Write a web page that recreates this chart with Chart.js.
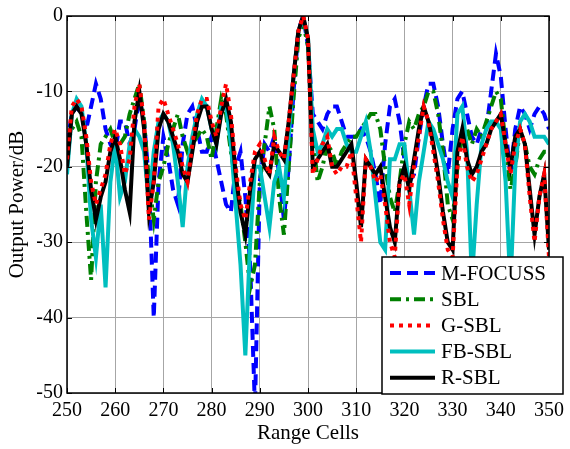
<!DOCTYPE html>
<html>
<head>
<meta charset="utf-8">
<script src="https://cdn.jsdelivr.net/npm/chart.js@4.4.1/dist/chart.umd.min.js"></script>
<style>
  html, body { margin: 0; padding: 0; background: #fff; }
  #wrap { width: 570px; height: 449px; }
</style>
</head>
<body>
<div id="wrap"><canvas id="grafico"></canvas></div>
<script>
// range cells 250..350, one sample per cell
const celdas = Array.from({ length: 101 }, (_, i) => 250 + i);
const xTicks = [250, 260, 270, 280, 290, 300, 310, 320, 330, 340, 350];
const yTicks = [0, -10, -20, -30, -40, -50];

const mFocuss = [
  -17, -13, -12, -13, -15, -12, -9, -11, -15, -17,
  -18, -14, -14, -17, -15, -11, -14, -22, -40, -22,
  -16, -19, -23, -25, -17, -13, -12, -15, -18, -18,
  -16, -19, -22, -25, -26, -20, -18, -24, -33, -52,
  -22, -17, -18, -16, -21, -27, -20, -10, -2, 0,
  -4, -13, -14, -15, -13, -12, -12, -14, -16, -16,
  -16, -15, -16, -18, -21, -25, -17, -12, -11, -14,
  -19, -22, -21, -16, -12, -9, -9, -12, -17, -21,
  -15, -11, -10, -13, -16, -17, -15, -15, -10, -5,
  -8, -15, -21, -15, -12, -13, -15, -13, -12, -13,
  -15
];
const sbl = [
  -17, -15, -14, -16, -26, -35, -22, -17, -16, -15,
  -17, -17, -16, -13, -11, -9, -14, -22, -27, -22,
  -20, -17, -15, -13, -16, -18, -17, -16, -15, -16,
  -19, -15, -11, -13, -18, -22, -25, -30, -36, -33,
  -22, -17, -12, -15, -24, -29, -20, -11, -3, -1,
  -4, -16, -22, -20, -17, -18, -20, -18, -17, -16,
  -16, -15, -14, -13, -13, -15, -20, -24, -26, -22,
  -17, -14, -15, -13, -12, -10, -10, -13, -18, -25,
  -27, -20, -16, -15, -17, -15, -16, -14, -12, -10,
  -11, -17, -23, -20, -15, -17, -20, -21, -19, -18,
  -18
];
const gSbl = [
  -19, -12, -11, -12, -16, -22, -25, -23, -21, -17,
  -15, -17, -21, -19, -12, -9, -14, -27, -22, -12,
  -11, -13, -15, -17, -20, -22, -17, -13, -11, -11,
  -14, -16, -12, -9, -13, -20, -25, -27, -22, -18,
  -17, -19, -21, -16, -18, -19, -14, -8, -2, 0,
  -3, -21, -19, -17, -16, -20, -21, -20, -20, -18,
  -24, -30, -19, -20, -22, -21, -25, -30, -32, -22,
  -21, -25, -20, -16, -12, -14, -18, -22, -27, -31,
  -32, -20, -16, -20, -22, -21, -19, -17, -15, -14,
  -13, -17, -21, -17, -15, -17, -24, -30, -24, -21,
  -32
];
const fbSbl = [
  -21, -13, -11, -12, -17, -27, -32, -25, -36, -22,
  -17, -24, -22, -17, -15, -16, -18, -25, -18, -14,
  -13, -14, -17, -22, -28, -20, -16, -13, -11, -12,
  -15, -17, -12, -12, -17, -25, -33, -45, -30, -20,
  -20, -24, -28, -22, -20, -24, -16, -8, -2, -0.5,
  -3, -15, -18, -17, -15, -16, -15, -15, -17, -18,
  -18, -16, -14, -18, -24, -30, -31, -19, -19, -17,
  -17, -23, -29, -22, -18, -14, -15, -17, -19, -22,
  -24, -13, -12, -18, -35, -25, -17, -15, -14, -14,
  -15, -22, -36, -20, -14, -13, -14, -16, -16, -16,
  -17
];
const rSbl = [
  -20, -13, -12, -13, -17, -23, -27, -24, -22, -18,
  -16, -19, -23, -26, -14, -10, -15, -26, -22, -15,
  -13, -14, -16, -18, -21, -22, -18, -14, -12, -12,
  -15, -17, -13, -11, -14, -21, -26, -29, -23, -19,
  -18, -20, -21, -17, -18, -19, -14, -8, -2, 0,
  -3, -20, -19, -18, -17, -20, -20, -19, -18, -17,
  -22, -28, -19, -20, -21, -20, -24, -28, -30, -22,
  -20, -23, -19, -15, -12, -14, -17, -21, -26, -30,
  -31, -18, -15, -19, -21, -20, -18, -17, -15, -14,
  -13, -17, -20, -16, -15, -17, -23, -29, -24, -21,
  -31
];

const serie = (arr) => arr.map((v, i) => ({ x: celdas[i], y: v }));

// legend entries in the reference order
const leyenda = [
  { label: 'M-FOCUSS', color: '#0000ff', dash: [11, 6] },
  { label: 'SBL', color: '#008000', dash: [11, 5, 3, 5] },
  { label: 'G-SBL', color: '#ff0000', dash: [4, 5] },
  { label: 'FB-SBL', color: '#00bfbf', dash: [] },
  { label: 'R-SBL', color: '#000000', dash: [] }
];

const fuente = 'Liberation Serif, Times New Roman, serif';

// box, inner ticks and legend drawn on top
const marco = {
  id: 'marco',
  afterDraw(chart) {
    const c = chart.ctx;
    const a = chart.chartArea;
    const xs = chart.scales.x, ys = chart.scales.y;
    c.save();
    c.strokeStyle = '#000';
    c.lineWidth = 1;
    c.beginPath();
    xTicks.forEach(t => {
      const px = Math.round(xs.getPixelForValue(t)) + 0.5;
      c.moveTo(px, a.bottom); c.lineTo(px, a.bottom - 5);
      c.moveTo(px, a.top); c.lineTo(px, a.top + 5);
    });
    yTicks.forEach(t => {
      const py = Math.round(ys.getPixelForValue(t)) + 0.5;
      c.moveTo(a.left, py); c.lineTo(a.left + 5, py);
      c.moveTo(a.right, py); c.lineTo(a.right - 5, py);
    });
    c.stroke();
    c.lineWidth = 1.5;
    c.strokeRect(a.left, a.top, a.right - a.left, a.bottom - a.top);

    // legend box
    const lx = 382, ly = 257, lw = 181, lh = 137;
    c.fillStyle = '#fff';
    c.fillRect(lx, ly, lw, lh);
    c.lineWidth = 1.5;
    c.strokeStyle = '#000';
    c.strokeRect(lx, ly, lw, lh);
    c.font = '21px ' + fuente;
    c.textBaseline = 'middle';
    leyenda.forEach((e, i) => {
      const y = 273 + i * 26.2;
      c.strokeStyle = e.color;
      c.lineWidth = 4;
      c.setLineDash(e.dash);
      c.beginPath();
      c.moveTo(390, y); c.lineTo(435, y);
      c.stroke();
      c.setLineDash([]);
      c.fillStyle = '#000';
      c.fillText(e.label, 441, y + 1);
    });
    c.restore();
  }
};

const ctx = document.getElementById('grafico').getContext('2d');
new Chart(ctx, {
  type: 'line',
  data: {
    datasets: [
      { label: 'G-SBL', data: serie(gSbl), borderColor: '#ff0000', borderDash: [4, 5], borderWidth: 4 },
      { label: 'R-SBL', data: serie(rSbl), borderColor: '#000000', borderWidth: 4 },
      { label: 'FB-SBL', data: serie(fbSbl), borderColor: '#00bfbf', borderWidth: 4 },
      { label: 'SBL', data: serie(sbl), borderColor: '#008000', borderDash: [11, 5, 3, 5], borderWidth: 4 },
      { label: 'M-FOCUSS', data: serie(mFocuss), borderColor: '#0000ff', borderDash: [11, 6], borderWidth: 4 }
    ]
  },
  options: {
    responsive: true,
    maintainAspectRatio: false,
    animation: false,
    elements: {
      point: { radius: 0 },
      line: { tension: 0, borderCapStyle: 'butt', borderJoinStyle: 'miter' }
    },
    layout: { padding: { top: 13, right: 13, left: 0, bottom: 0 } },
    plugins: {
      legend: { display: false },
      tooltip: { enabled: false }
    },
    scales: {
      x: {
        type: 'linear',
        min: 250,
        max: 350,
        afterBuildTicks: s => { s.ticks = xTicks.map(v => ({ value: v })); },
        afterFit: s => { s.height = 56; },
        grid: { color: '#a6a6a6', lineWidth: 1, drawTicks: false },
        border: { display: false },
        ticks: { color: '#000', padding: 6, maxRotation: 0, font: { family: fuente, size: 20 } },
        title: { display: true, text: 'Range Cells', color: '#000', padding: { top: 0, bottom: 3 }, font: { family: fuente, size: 21 } }
      },
      y: {
        min: -50,
        max: 0,
        afterBuildTicks: s => { s.ticks = yTicks.map(v => ({ value: v })); },
        afterFit: s => { s.width = 67; },
        grid: { color: '#a6a6a6', lineWidth: 1, drawTicks: false },
        border: { display: false },
        ticks: { color: '#000', padding: 4, font: { family: fuente, size: 20 } },
        title: { display: true, text: 'Output Power/dB', color: '#000', padding: { top: 5, bottom: 0 }, font: { family: fuente, size: 21 } }
      }
    }
  },
  plugins: [marco]
});
</script>
</body>
</html>
